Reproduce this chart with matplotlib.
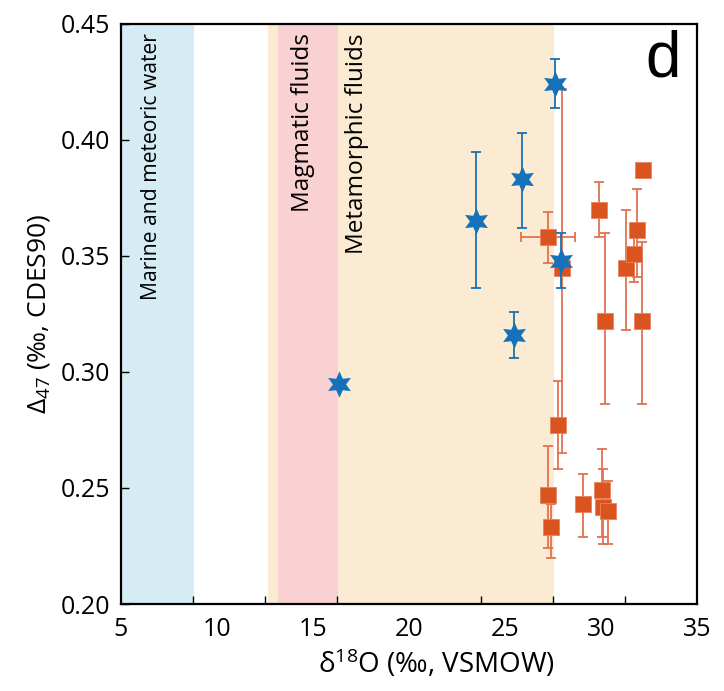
import numpy as np
import matplotlib
matplotlib.use("Agg")
import matplotlib.pyplot as plt

plt.rcParams['font.family'] = ['Open Sans', 'DejaVu Sans']
plt.rcParams['mathtext.fontset'] = 'custom'
plt.rcParams['mathtext.rm'] = 'Open Sans'
plt.rcParams['mathtext.it'] = 'Open Sans:italic'

# blue stars: d18O, D47, lower/upper error
STAR_X = [16.35, 23.5, 25.9, 25.45, 27.6, 27.9]
STAR_Y = [0.295, 0.365, 0.383, 0.316, 0.424, 0.348]
STAR_ERR_LO = [0.0, 0.029, 0.021, 0.010, 0.010, 0.012]
STAR_ERR_HI = [0.0, 0.030, 0.020, 0.010, 0.011, 0.012]

# orange squares
SQ_X = [27.25, 27.95, 29.9, 30.2, 31.3, 31.7, 31.85, 32.2, 32.15,
        27.75, 27.25, 27.4, 29.05, 30.05, 30.1, 30.35]
SQ_Y = [0.358, 0.345, 0.370, 0.322, 0.345, 0.351, 0.361, 0.387, 0.322,
        0.277, 0.247, 0.233, 0.243, 0.249, 0.242, 0.240]
SQ_ERR_LO = [0.011, 0.080, 0.012, 0.036, 0.027, 0.012, 0.020, 0.0, 0.036,
             0.019, 0.023, 0.013, 0.014, 0.020, 0.016, 0.014]
SQ_ERR_HI = [0.011, 0.077, 0.012, 0.038, 0.025, 0.012, 0.018, 0.0, 0.034,
             0.019, 0.021, 0.010, 0.013, 0.018, 0.016, 0.013]
SQ_XERR = [1.4, 0, 0, 0, 0, 0, 0, 0, 0, 0, 0, 0, 0, 0, 0, 0]

# source fields (d18O ranges)
MARINE = (5.0, 8.8)
METAMORPHIC = (12.65, 27.55)
MAGMATIC = (13.2, 16.3)

BLUE = '#1572b9'
ORANGE = '#d9541f'
ORANGE_ERR = '#e2724f'

fig = plt.figure(figsize=(7.24, 6.91), dpi=100)
ax = fig.add_axes([0.1671, 0.1259, 0.7956, 0.8394])

ax.axvspan(*MARINE, color='#d5ecf5', lw=0, zorder=0)
ax.axvspan(*METAMORPHIC, color='#fbebd2', lw=0, zorder=0)
ax.axvspan(*MAGMATIC, color='#f9d1d3', lw=0, zorder=0)

ax.text(6.6, 0.446, 'Marine and meteoric water', rotation=90, ha='center', va='top', fontsize=15.2)
ax.text(14.5, 0.446, 'Magmatic fluids', rotation=90, ha='center', va='top', fontsize=17.5)
ax.text(17.3, 0.446, 'Metamorphic fluids', rotation=90, ha='center', va='top', fontsize=17.5)
ax.text(0.972, 0.99, 'd', transform=ax.transAxes, ha='right', va='top',
        fontsize=46, family=['Liberation Sans'])

ax.errorbar(SQ_X, SQ_Y, yerr=[SQ_ERR_LO, SQ_ERR_HI], xerr=SQ_XERR, fmt='none',
            ecolor=ORANGE_ERR, elinewidth=1.3, capsize=3.5, capthick=1.3, zorder=2)
ax.plot(SQ_X, SQ_Y, 's', color=ORANGE, markersize=11, markeredgecolor='#e8825f',
        markeredgewidth=0.6, zorder=3)

ax.errorbar(STAR_X, STAR_Y, yerr=[STAR_ERR_LO, STAR_ERR_HI], fmt='none',
            ecolor=BLUE, elinewidth=1.3, capsize=3.5, capthick=1.3, zorder=4)
ax.plot(STAR_X, STAR_Y, marker=(6, 1, 0), ls='none', color=BLUE, markersize=19,
        markeredgewidth=0, zorder=5)

ax.set_xlim(5, 35)
ax.set_ylim(0.20, 0.45)
ax.set_xticks([5, 10, 15, 20, 25, 30, 35])
ax.set_xticks(np.arange(8.75, 35, 3.75), minor=True)
ax.set_yticks([0.20, 0.25, 0.30, 0.35, 0.40, 0.45])
ax.set_yticklabels(['0.20', '0.25', '0.30', '0.35', '0.40', '0.45'])
ax.tick_params(axis='x', which='major', length=0, labelsize=18, pad=9)
ax.tick_params(axis='x', which='minor', direction='in', length=6, width=1)
ax.tick_params(axis='y', direction='in', length=6, width=1, labelsize=18, pad=8)

for s in ax.spines.values():
    s.set_linewidth(1.6)

ax.set_xlabel(r'$\mathregular{\delta^{18}}$O (‰, VSMOW)', fontsize=20)
ax.xaxis.set_label_coords(0.548, -0.075)
ax.set_ylabel(r'$\mathregular{\Delta_{47}}$ (‰, CDES90)', fontsize=19, labelpad=6)

fig.savefig('out.png', dpi=100)
